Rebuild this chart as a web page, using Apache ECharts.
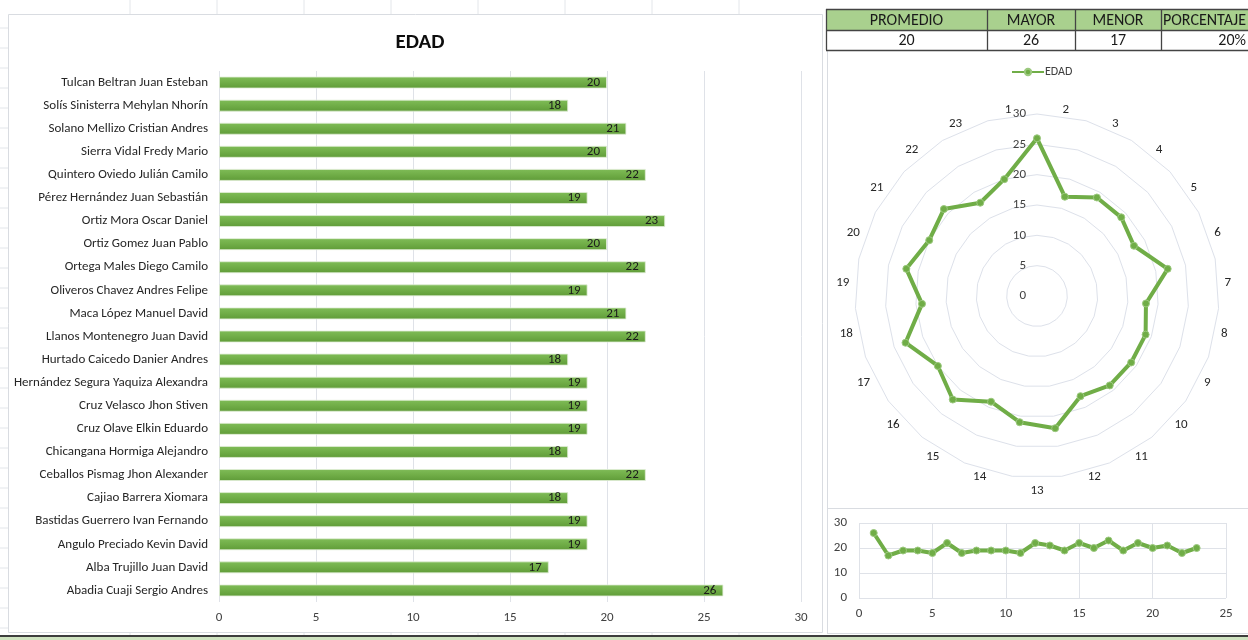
<!DOCTYPE html>
<html>
<head>
<meta charset="utf-8">
<script src="https://cdn.jsdelivr.net/npm/echarts@6/dist/echarts.min.js"></script>
<style>
  html, body { margin: 0; padding: 0; background: #ffffff; }
  #chart { width: 1248px; height: 640px; }
</style>
</head>
<body>
<div id="chart"></div>
<script>
// Estudiantes (de abajo hacia arriba en el gráfico de barras, numerados 1..23)
const nombres = [
  'Abadia Cuaji Sergio Andres',
  'Alba Trujillo Juan David',
  'Angulo Preciado Kevin David',
  'Bastidas Guerrero Ivan Fernando',
  'Cajiao Barrera Xiomara',
  'Ceballos Pismag Jhon Alexander',
  'Chicangana Hormiga Alejandro',
  'Cruz Olave Elkin Eduardo',
  'Cruz Velasco Jhon Stiven',
  'Hernández Segura Yaquiza Alexandra',
  'Hurtado Caicedo Danier Andres',
  'Llanos Montenegro Juan David',
  'Maca López Manuel David',
  'Oliveros Chavez Andres Felipe',
  'Ortega Males Diego Camilo',
  'Ortiz Gomez Juan Pablo',
  'Ortiz Mora Oscar Daniel',
  'Pérez Hernández Juan Sebastián',
  'Quintero Oviedo Julián Camilo',
  'Sierra Vidal Fredy Mario',
  'Solano Mellizo Cristian Andres',
  'Solís Sinisterra Mehylan Nhorín',
  'Tulcan Beltran Juan Esteban'
];
const edades = [26, 17, 19, 19, 18, 22, 18, 19, 19, 19, 18, 22, 21, 19, 22, 20, 23, 19, 22, 20, 21, 18, 20];
const numeros = [1, 2, 3, 4, 5, 6, 7, 8, 9, 10, 11, 12, 13, 14, 15, 16, 17, 18, 19, 20, 21, 22, 23];

// Tabla resumen
const encabezados = ['PROMEDIO', 'MAYOR', 'MENOR', 'PORCENTAJE'];
const resumen = ['20', '26', '17', '20%'];

// Escalas
const barTicks = { min: 0, max: 30, interval: 5 };
const radarTicks = { min: 0, max: 30, split: 6 };
const lineX = { min: 0, max: 25, interval: 5 };
const lineY = { min: 0, max: 30, interval: 10 };

const FONT = 'Carlito, Lato, "Liberation Sans", sans-serif';
const VERDE = '#70ad47';
const GRID = '#dfe2e8';

// Radar en sentido horario: 1 arriba, luego 2, 3 ... hacia la derecha
const ordenHorario = [0].concat(numeros.slice(1).map((n, i) => numeros.length - 1 - i));
const radarIndicadores = ordenHorario.map((k, j) => {
  const ind = { name: String(numeros[k]), min: radarTicks.min, max: radarTicks.max };
  if (j === 0) {
    ind.axisLabel = { show: true, color: '#404040', fontSize: 13, fontFamily: FONT, margin: 11 };
  }
  return ind;
});
const radarValores = ordenHorario.map(k => edades[k]);

// Cuadrícula de fondo de la hoja y marcos de los gráficos
const fondo = [];
for (let x = 130; x <= 820; x += 87) {
  fondo.push({ type: 'line', shape: { x1: x, y1: 0, x2: x, y2: 14 }, style: { stroke: '#e3e6ea', lineWidth: 1 } });
  fondo.push({ type: 'line', shape: { x1: x, y1: 632, x2: x, y2: 636 }, style: { stroke: '#e3e6ea', lineWidth: 1 } });
}
for (let y = 28; y < 632; y += 20) {
  fondo.push({ type: 'line', shape: { x1: 0, y1: y, x2: 8, y2: y }, style: { stroke: '#e3e6ea', lineWidth: 1 } });
}
fondo.push(
  { type: 'rect', shape: { x: 8.5, y: 14.5, width: 814, height: 618 }, style: { fill: null, stroke: '#d9dce1', lineWidth: 1 } },
  { type: 'line', shape: { x1: 827.5, y1: 50, x2: 827.5, y2: 634 }, style: { stroke: '#d9dce1', lineWidth: 1 } },
  { type: 'line', shape: { x1: 827, y1: 508.5, x2: 1248, y2: 508.5 }, style: { stroke: '#d9dce1', lineWidth: 1 } },
  { type: 'line', shape: { x1: 827, y1: 633.5, x2: 1248, y2: 633.5 }, style: { stroke: '#d9dce1', lineWidth: 1 } },
  { type: 'rect', shape: { x: 0, y: 635, width: 1248, height: 2 }, style: { fill: '#3d3d3d' } },
  { type: 'rect', shape: { x: 0, y: 637, width: 1248, height: 3 }, style: { fill: '#cfe3c0' } }
);

// Tabla: PROMEDIO / MAYOR / MENOR / PORCENTAJE
const colX = [826, 987, 1075, 1161, 1248];
const filaY = [9, 30, 50];
const tabla = [];
tabla.push({ type: 'rect', shape: { x: colX[0], y: filaY[0], width: colX[4] - colX[0], height: filaY[1] - filaY[0] }, style: { fill: '#a9d08e' } });
encabezados.forEach((t, i) => {
  const ultima = i === encabezados.length - 1;
  tabla.push({
    type: 'text',
    x: ultima ? colX[i] + 2 : (colX[i] + colX[i + 1]) / 2,
    y: (filaY[0] + filaY[1]) / 2 + 1,
    style: { text: t, fill: '#1a1a1a', font: '16px ' + FONT, align: ultima ? 'left' : 'center', verticalAlign: 'middle' }
  });
  tabla.push({
    type: 'text',
    x: ultima ? colX[i + 1] - 2 : (colX[i] + colX[i + 1]) / 2,
    y: (filaY[1] + filaY[2]) / 2 + 1,
    style: { text: resumen[i], fill: '#1a1a1a', font: '16px ' + FONT, align: ultima ? 'right' : 'center', verticalAlign: 'middle' }
  });
});
filaY.forEach(y => {
  tabla.push({ type: 'line', shape: { x1: colX[0], y1: y + 0.5, x2: colX[4], y2: y + 0.5 }, style: { stroke: '#444', lineWidth: 1.3 } });
});
colX.slice(0, 4).forEach(x => {
  tabla.push({ type: 'line', shape: { x1: x + 0.5, y1: filaY[0], x2: x + 0.5, y2: filaY[2] }, style: { stroke: '#444', lineWidth: 1.3 } });
});

const chart = echarts.init(document.getElementById('chart'), null, { renderer: 'canvas' });

chart.setOption({
  backgroundColor: '#ffffff',
  animation: false,
  textStyle: { fontFamily: FONT },
  graphic: fondo.concat(tabla),
  title: {
    text: 'EDAD',
    left: 415, top: 27, textAlign: 'center',
    textStyle: { fontSize: 21, fontWeight: 'bold', color: '#0d0d0d', fontFamily: FONT }
  },
  legend: {
    data: ['EDAD'],
    left: 1006, top: 61,
    itemWidth: 32, itemHeight: 8,
    textStyle: { fontSize: 12, color: '#404040', fontFamily: FONT, padding: [0, 0, 0, -4] }
  },
  grid: [
    { left: 219, top: 71, width: 582, height: 531, containLabel: false },
    { left: 859, top: 523, width: 367, height: 75, containLabel: false }
  ],
  xAxis: [
    {
      gridIndex: 0, type: 'value', min: barTicks.min, max: barTicks.max, interval: barTicks.interval,
      axisLine: { show: false }, axisTick: { show: false },
      axisLabel: { color: '#404040', fontSize: 13, margin: 9, fontFamily: FONT },
      splitLine: { show: true, lineStyle: { color: GRID, width: 1 } }
    },
    {
      gridIndex: 1, type: 'value', min: lineX.min, max: lineX.max, interval: lineX.interval,
      axisLine: { show: false }, axisTick: { show: false },
      axisLabel: { color: '#404040', fontSize: 13, margin: 9, fontFamily: FONT },
      splitLine: { show: true, lineStyle: { color: GRID, width: 1 } }
    }
  ],
  yAxis: [
    {
      gridIndex: 0, type: 'category', data: nombres,
      axisLine: { show: false }, axisTick: { show: false },
      axisLabel: { color: '#262626', fontSize: 13, margin: 11, fontFamily: FONT },
      splitLine: { show: false }
    },
    {
      gridIndex: 1, type: 'value', min: lineY.min, max: lineY.max, interval: lineY.interval,
      axisLine: { show: false }, axisTick: { show: false },
      axisLabel: { color: '#404040', fontSize: 13, margin: 12, fontFamily: FONT },
      splitLine: { show: true, lineStyle: { color: GRID, width: 1 } }
    }
  ],
  radar: [
    {
      center: [1037, 296], radius: 182, startAngle: 90, shape: 'polygon',
      splitNumber: radarTicks.split,
      indicator: radarIndicadores,
      axisName: { show: false },
      axisLine: { show: false }, axisTick: { show: false },
      axisLabel: { show: false },
      splitLine: { show: true, lineStyle: { color: '#dde1ea', width: 1 } },
      splitArea: { show: false }
    },
    {
      // Etiquetas de los ejes del radar
      center: [1037, 296], radius: 182, startAngle: 90 + 180 / numeros.length, shape: 'polygon',
      splitNumber: radarTicks.split,
      indicator: ordenHorario.map(k => ({ name: String(numeros[k]), min: radarTicks.min, max: radarTicks.max })),
      axisName: { show: true, color: '#262626', fontSize: 13, fontFamily: FONT },
      nameGap: 6,
      axisLine: { show: false }, axisTick: { show: false }, axisLabel: { show: false },
      splitLine: { show: false }, splitArea: { show: false }
    }
  ],
  series: [
    {
      name: 'EDAD', type: 'line', xAxisIndex: 1, yAxisIndex: 1,
      data: numeros.map((n, i) => [n, edades[i]]),
      symbol: 'circle', symbolSize: 7,
      lineStyle: { color: VERDE, width: 4 },
      itemStyle: { color: VERDE, borderColor: '#9cc97f', borderWidth: 1 }
    },
    {
      name: 'EDAD', type: 'radar', radarIndex: 0,
      data: [{ value: radarValores, name: 'EDAD' }],
      symbol: 'circle', symbolSize: 7,
      lineStyle: { color: VERDE, width: 4 },
      itemStyle: { color: VERDE, borderColor: '#9cc97f', borderWidth: 1 }
    },
    {
      name: 'Edad', type: 'bar', xAxisIndex: 0, yAxisIndex: 0,
      data: edades,
      barWidth: 12,
      itemStyle: {
        color: new echarts.graphic.LinearGradient(0, 0, 0, 1, [
          { offset: 0, color: '#80bd58' },
          { offset: 0.5, color: '#70ad47' },
          { offset: 1, color: '#5f9b38' }
        ]),
        borderColor: 'rgba(225,238,215,0.8)', borderWidth: 1
      },
      label: {
        show: true, position: 'insideRight', distance: 7,
        color: '#1a1a1a', fontSize: 13, fontFamily: FONT
      }
    }
  ]
});
</script>
</body>
</html>
